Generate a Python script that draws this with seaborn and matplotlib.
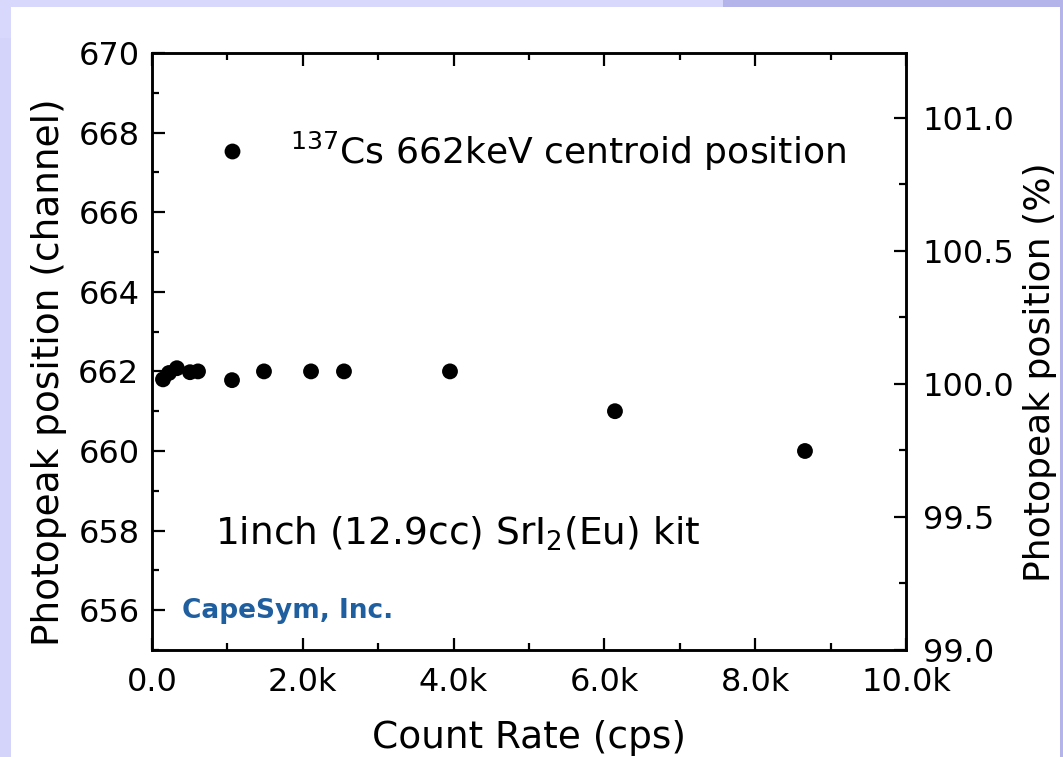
import matplotlib
matplotlib.use("Agg")
import matplotlib.pyplot as plt
import seaborn as sns
import pandas as pd
from matplotlib.ticker import MultipleLocator, FuncFormatter
from matplotlib.patches import Rectangle

count_rate = [146, 225, 330, 504, 610, 1061, 1485, 2109, 2546, 3952, 6140, 8660]
channel = [661.8, 661.96, 662.08, 661.98, 662.0, 661.78, 662.0, 662.0, 662.0, 662.0, 661.0, 660.0]
legend_label = r"$^{137}$Cs 662keV centroid position"
x_ticks = [0, 2000, 4000, 6000, 8000, 10000]
left_ticks = [656, 658, 660, 662, 664, 666, 668, 670]
right_ticks = [99.0, 99.5, 100.0, 100.5, 101.0]

df = pd.DataFrame({"rate": count_rate, "channel": channel, "series": legend_label})

sns.set_theme(style="ticks")
plt.rcParams["font.family"] = ["DejaVu Sans"]
plt.rcParams["mathtext.fontset"] = "dejavusans"
plt.rcParams["text.color"] = "black"
plt.rcParams["axes.labelcolor"] = "black"

fig = plt.figure(figsize=(10.63, 7.57), dpi=100)
fig.patch.set_facecolor("#d4d4fa")
fig.patches.append(Rectangle((0, 0.95), 1, 0.05, transform=fig.transFigure,
                             facecolor="#b4b4ea", edgecolor="none", zorder=-2))
fig.patches.append(Rectangle((0, 0.95), 0.68, 0.05, transform=fig.transFigure,
                             facecolor="#d8d8fc", edgecolor="none", zorder=-2))
fig.patches.append(Rectangle((1060 / 1063, 0), 3 / 1063, 1, transform=fig.transFigure,
                             facecolor="#b4b4ea", edgecolor="none", zorder=-2))
fig.patches.append(Rectangle((11 / 1063, 0), (1060 - 11) / 1063, (757 - 7) / 757,
                             transform=fig.transFigure, facecolor="white",
                             edgecolor="none", zorder=-1))

ax = fig.add_axes([152 / 1063, 1 - 650 / 757, (906 - 152) / 1063, (650 - 53) / 757])
ax.set_facecolor("white")
sns.scatterplot(data=df, x="rate", y="channel", hue="series", palette=["black"],
                s=130, edgecolor="black", linewidth=0, ax=ax, legend=True)

ax.set_xlim(0, 10000)
ax.set_ylim(655, 670)
ax.set_xticks(x_ticks)
ax.xaxis.set_minor_locator(MultipleLocator(1000))
ax.xaxis.set_major_formatter(FuncFormatter(lambda v, p: "0.0" if v == 0 else f"{v/1000:.1f}k"))
ax.set_yticks(left_ticks)
ax.yaxis.set_minor_locator(MultipleLocator(1))
ax.tick_params(which="both", direction="in", top=True, labelsize=23, width=1.6,
               colors="black")
ax.tick_params(axis="y", which="major", length=9, pad=9)
ax.tick_params(axis="x", which="major", length=9, pad=12)
ax.tick_params(which="minor", length=5)
for sp in ax.spines.values():
    sp.set_linewidth(1.8)
    sp.set_color("black")
ax.set_xlabel("Count Rate (cps)", fontsize=27, labelpad=16)
ax.set_ylabel("Photopeak position (channel)", fontsize=27, labelpad=8)
ax.yaxis.label.set_y(0.466)

ax2 = ax.twinx()
ax2.set_ylim(99.0, 101.244)
ax2.set_yticks(right_ticks)
ax2.set_yticklabels([f"{v:.1f}" for v in right_ticks])
ax2.yaxis.set_minor_locator(MultipleLocator(0.25))
ax2.tick_params(which="both", direction="in", labelsize=23, width=1.6, colors="black")
ax2.tick_params(which="major", length=9, pad=12)
ax2.tick_params(which="minor", length=5)
for sp in ax2.spines.values():
    sp.set_linewidth(1.8)
    sp.set_color("black")
ax2.set_ylabel("Photopeak position (%)", fontsize=26, labelpad=6)
ax2.yaxis.label.set_y(0.466)

leg = ax.legend(loc="center left", bbox_to_anchor=(0.058, 0.835), frameon=False,
                fontsize=26, markerscale=1.0, handletextpad=1.0, borderaxespad=0,
                handlelength=1.2)

ax.text(0.083, 0.195, r"1inch (12.9cc) SrI$_2$(Eu) kit", transform=ax.transAxes,
        fontsize=27, ha="left", va="center")
ax.text(0.04, 0.065, "CapeSym, Inc.", transform=ax.transAxes, fontsize=19,
        fontweight="bold", color="#1f5f9f", ha="left", va="center")

fig.savefig("out.png", dpi=100, facecolor=fig.get_facecolor())
